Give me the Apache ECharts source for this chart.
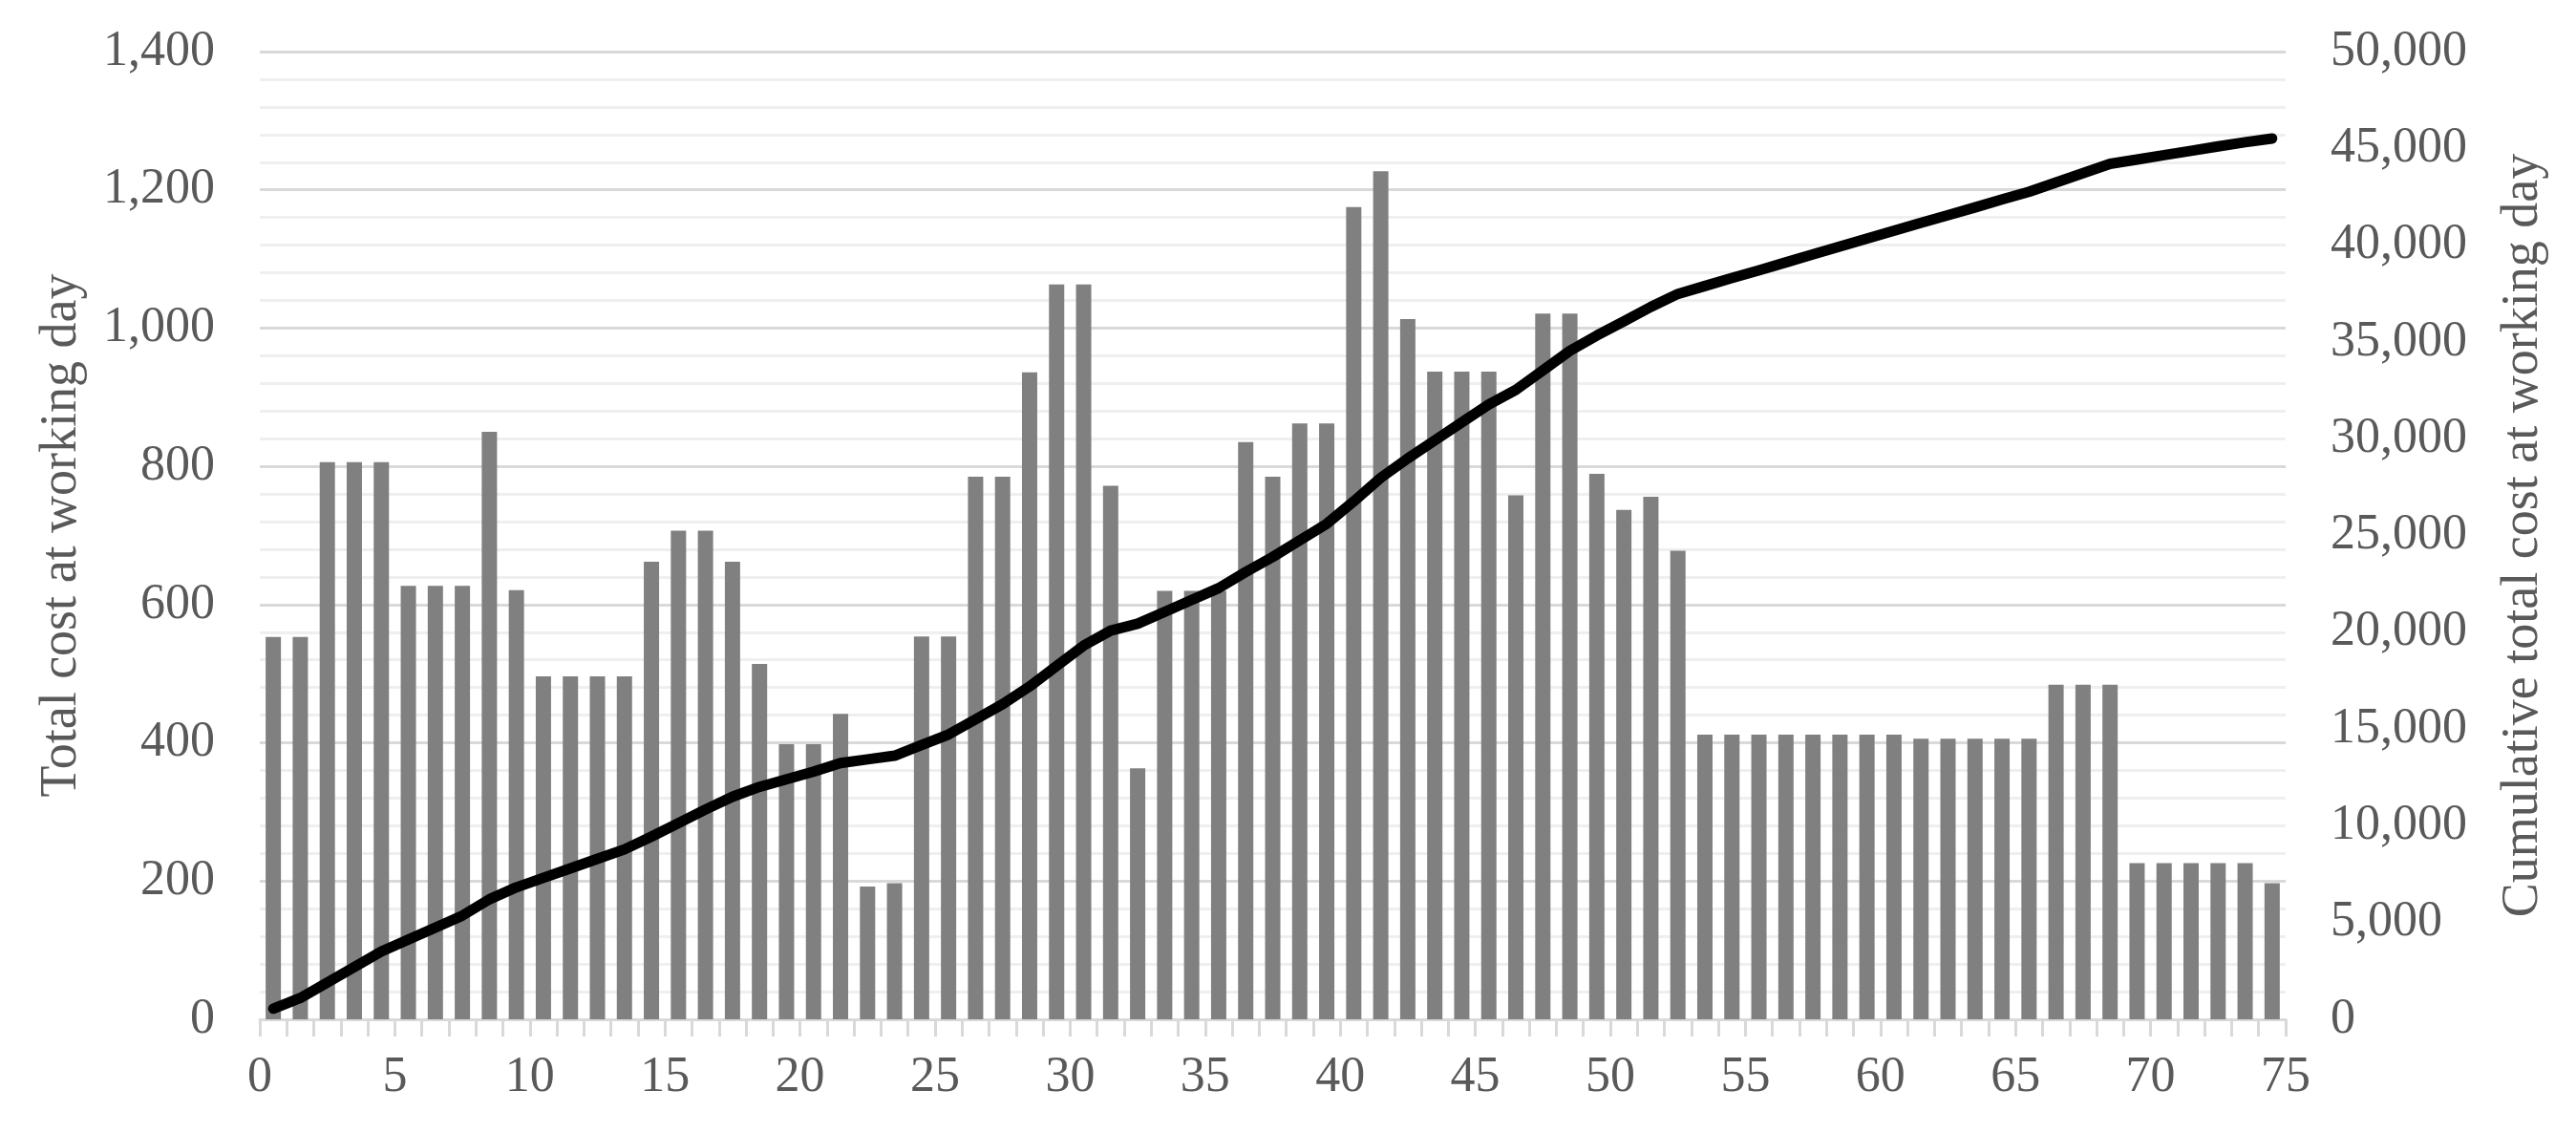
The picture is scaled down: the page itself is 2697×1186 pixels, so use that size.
<!DOCTYPE html>
<html>
<head>
<meta charset="utf-8">
<script src="https://cdn.jsdelivr.net/npm/echarts@6/dist/echarts.min.js"></script>
<style>
  html, body { margin: 0; padding: 0; background: #fff; }
  #chart { width: 2697px; height: 1186px; }
</style>
</head>
<body>
<div id="chart"></div>
<script>
// daily cost (bars), one per working day 1..75
var dailyCost = [
  553, 553, 806, 806, 806, 627, 627, 627, 850, 621,
  496, 496, 496, 496, 662, 707, 707, 662, 514, 398,
  398, 442, 192, 197, 554, 554, 785, 785, 936, 1063,
  1063, 772, 363, 620, 620, 620, 835, 785, 862, 862,
  1175, 1227, 1013, 937, 937, 937, 758, 1021, 1021, 789,
  737, 756, 678, 412, 412, 412, 412, 412, 412, 412,
  412, 406, 406, 406, 406, 406, 484, 484, 484, 226,
  226, 226, 226, 226, 197
];
// cumulative cost (line)
var cumulativeCost = [
  550, 1100, 1900, 2700, 3500, 4120, 4740, 5360, 6200, 6820,
  7310, 7800, 8290, 8780, 9440, 10140, 10840, 11500, 12010, 12400,
  12800, 13240, 13430, 13620, 14170, 14720, 15500, 16280, 17200, 18260,
  19310, 20080, 20440, 21050, 21670, 22280, 23110, 23890, 24750, 25600,
  26760, 27980, 28980, 29910, 30840, 31770, 32520, 33530, 34540, 35330,
  36060, 36810, 37480, 37890, 38300, 38700, 39110, 39520, 39930, 40340,
  40750, 41150, 41550, 41950, 42360, 42760, 43240, 43720, 44200, 44420,
  44650, 44870, 45100, 45320, 45510
];

var font = 'Liberation Serif';
var textColor = '#595959';

// each day is drawn in the middle of its unit on the x axis
var barData = dailyCost.map(function (v, i) { return [i + 0.5, v]; });
var lineData = cumulativeCost.map(function (v, i) { return [i + 0.5, v]; });

var myChart = echarts.init(document.getElementById('chart'));
var option = {
  backgroundColor: '#fff',
  animation: false,
  grid: {
    left: 272, right: 304, top: 54, bottom: 119,
    containLabel: false, outerBoundsMode: 'none'
  },
  xAxis: {
    type: 'value',
    min: 0, max: 75, interval: 5,
    axisLine: { show: true, lineStyle: { color: '#d9d9d9', width: 3 } },
    axisTick: { show: true, length: 18, lineStyle: { color: '#d9d9d9', width: 3 } },
    minorTick: { show: true, splitNumber: 5, length: 18, lineStyle: { color: '#d9d9d9', width: 3 } },
    splitLine: { show: false },
    axisLabel: { fontFamily: font, fontSize: 52, color: textColor, margin: 35 }
  },
  yAxis: [
    {
      type: 'value',
      min: 0, max: 1400, interval: 200,
      name: 'Total cost at working day',
      nameLocation: 'middle',
      nameGap: 180,
      nameTextStyle: { fontFamily: font, fontSize: 54, color: textColor },
      axisLine: { show: false },
      axisTick: { show: false },
      splitLine: { show: true, lineStyle: { color: '#d9d9d9', width: 3 } },
      minorTick: { show: false, splitNumber: 5 },
      minorSplitLine: { show: true, lineStyle: { color: '#efefef', width: 3 } },
      axisLabel: { fontFamily: font, fontSize: 52, color: textColor, margin: 47 }
    },
    {
      type: 'value',
      position: 'right',
      min: 0, max: 50000, interval: 5000,
      name: 'Cumulative total cost at working day',
      nameLocation: 'middle',
      nameRotate: 90,
      nameGap: 222,
      nameTextStyle: { fontFamily: font, fontSize: 54, color: textColor },
      axisLine: { show: false },
      axisTick: { show: false },
      splitLine: { show: false },
      axisLabel: { fontFamily: font, fontSize: 52, color: textColor, margin: 47 }
    }
  ],
  series: [
    {
      name: 'Total cost at working day',
      type: 'bar',
      yAxisIndex: 0,
      barWidth: 16,
      itemStyle: { color: '#808080' },
      data: barData
    },
    {
      name: 'Cumulative total cost at working day',
      type: 'line',
      yAxisIndex: 1,
      showSymbol: false,
      smooth: false,
      lineStyle: { color: '#000', width: 11, cap: 'round', join: 'round' },
      z: 5,
      data: lineData
    }
  ]
};
myChart.setOption(option);
</script>
</body>
</html>
